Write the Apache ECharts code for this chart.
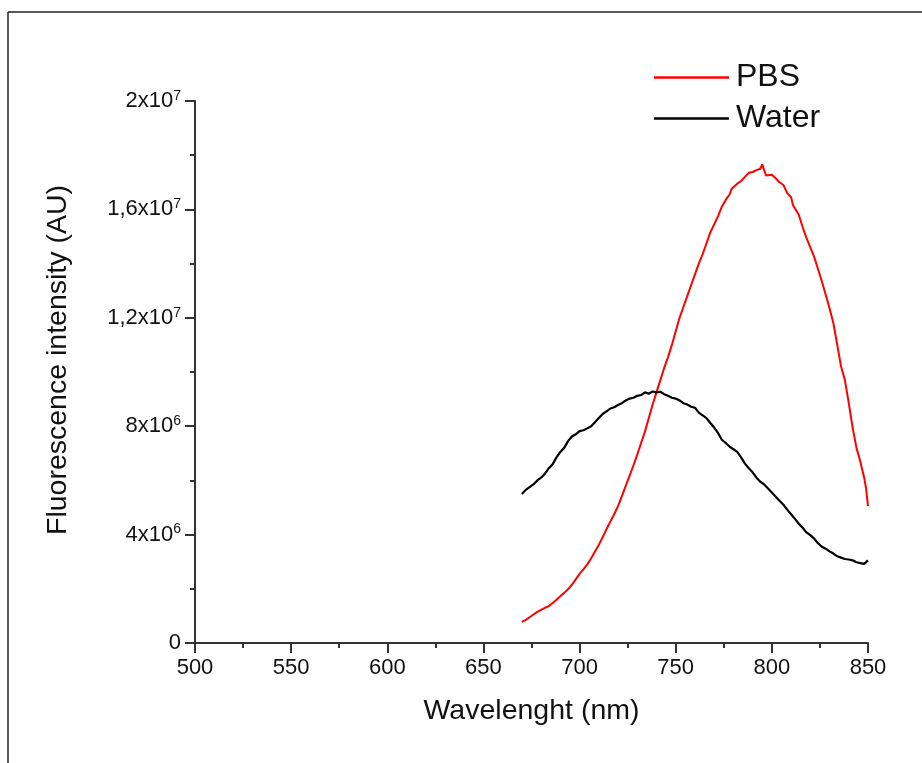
<!DOCTYPE html>
<html>
<head>
<meta charset="utf-8">
<script src="https://cdn.jsdelivr.net/npm/echarts@6/dist/echarts.min.js"></script>
<style>
html,body{margin:0;padding:0;background:#fff;}
#chart{width:922px;height:763px;}
</style>
</head>
<body>
<div id="chart"></div>
<script>
// Wavelength (nm) and intensity (units of 1e6 AU)
var pbsWavelength = [670,672,674,676,678,680,682,684,686,688,690,692,694,696,698,700,702,704,706,708,710,712,714,716,718,720,722,724,726,728,730,732,734,736,738,740,742,744,746,748,750,752,754,756,758,760,762,764,766,768,770,772,774,776,778,779,780,782,784,786,788,790,792,794,795,796,797,798,800,802,803,804,806,808,810,811,812,814,816,818,820,822,824,826,828,830,832,834,836,838,840,842,844,846,848,849,850];
var pbsIntensity = [0.78,0.85,0.95,1.05,1.15,1.22,1.30,1.36,1.48,1.60,1.73,1.85,1.98,2.15,2.35,2.55,2.72,2.90,3.12,3.38,3.62,3.90,4.20,4.48,4.75,5.05,5.42,5.80,6.17,6.55,6.95,7.38,7.80,8.30,8.80,9.25,9.70,10.15,10.55,11.00,11.50,12.00,12.40,12.80,13.20,13.60,14.00,14.35,14.75,15.15,15.45,15.75,16.10,16.35,16.55,16.75,16.70,16.95,17.05,17.20,17.35,17.38,17.45,17.50,17.66,17.45,17.25,17.30,17.28,17.15,17.20,17.00,16.90,16.60,16.45,16.15,16.20,15.80,15.35,14.95,14.60,14.25,13.80,13.35,12.85,12.35,11.80,11.00,10.20,9.70,8.85,7.95,7.20,6.70,6.10,5.70,5.05];

var waterWavelength = [670,672,674,676,678,680,682,684,686,688,690,692,694,696,698,700,702,704,706,708,710,712,714,716,718,720,722,724,726,728,730,732,734,736,738,740,742,744,746,748,750,752,754,756,758,760,762,764,766,768,770,772,774,776,778,780,782,784,786,788,790,792,794,796,798,800,802,804,806,808,810,812,814,816,818,820,822,824,826,828,830,832,834,836,838,840,842,844,846,848,850];
var waterIntensity = [5.50,5.65,5.75,5.85,6.00,6.10,6.25,6.45,6.60,6.85,7.05,7.20,7.45,7.62,7.70,7.82,7.85,7.92,8.00,8.15,8.30,8.45,8.55,8.65,8.70,8.78,8.85,8.95,9.02,9.05,9.12,9.15,9.25,9.20,9.28,9.25,9.27,9.18,9.12,9.05,9.02,8.95,8.85,8.80,8.72,8.68,8.50,8.40,8.30,8.12,7.95,7.75,7.50,7.38,7.25,7.15,7.05,6.85,6.62,6.45,6.30,6.10,5.95,5.85,5.70,5.55,5.40,5.25,5.10,4.92,4.75,4.58,4.40,4.25,4.08,3.98,3.85,3.68,3.55,3.48,3.38,3.30,3.20,3.15,3.10,3.08,3.05,2.98,2.95,2.92,3.05];

var seriesNames = ['PBS', 'Water'];
var seriesColors = ['#ff0000', '#000000'];
var xTicks = [500, 550, 600, 650, 700, 750, 800, 850];
var yTicks = [0, 4e6, 8e6, 1.2e7, 1.6e7, 2e7];

function pairs(xs, ys) {
  return xs.map(function (x, i) { return [x, ys[i] * 1e6]; });
}

function yLabel(v) {
  if (v === 0) return '0';
  var exp = Math.floor(Math.log10(v) + 1e-9);
  var mant = Math.round(v / Math.pow(10, exp) * 10) / 10;
  return String(mant).replace('.', ',') + 'x10{sup|' + exp + '}';
}

var FONT = '"Liberation Sans", Arial, sans-serif';
var chart = echarts.init(document.getElementById('chart'));
chart.setOption({
  animation: false,
  backgroundColor: '#fff',
  textStyle: { fontFamily: FONT },
  graphic: [
    { type: 'line', shape: { x1: 8, y1: 12, x2: 922, y2: 12 }, style: { stroke: '#222', lineWidth: 1.5 } },
    { type: 'line', shape: { x1: 8, y1: 12, x2: 8, y2: 763 }, style: { stroke: '#222', lineWidth: 1.5 } }
  ],
  grid: { left: 195, right: 54, top: 101, bottom: 120, containLabel: false },
  legend: {
    orient: 'vertical',
    left: 649,
    top: 54,
    icon: 'rect',
    itemWidth: 75,
    itemHeight: 2.5,
    itemGap: 4,
    textStyle: { fontFamily: FONT, fontSize: 32, color: '#111', lineHeight: 37, padding: [0, 0, 0, 2] },
    data: seriesNames
  },
  xAxis: {
    type: 'value',
    min: 500, max: 850, interval: 50,
    name: 'Wavelenght (nm)',
    nameLocation: 'middle',
    nameGap: 54,
    nameTextStyle: { fontFamily: FONT, fontSize: 28.5, color: '#111' },
    axisLine: { onZero: false, lineStyle: { color: '#333', width: 2 } },
    axisTick: { show: true, inside: false, length: 10, lineStyle: { color: '#333', width: 2 } },
    minorTick: { show: true, splitNumber: 2, length: 5, lineStyle: { color: '#333', width: 2 } },
    splitLine: { show: false },
    axisLabel: { fontFamily: FONT, fontSize: 22, color: '#111', margin: 14,
      formatter: function (v) { return xTicks.indexOf(v) >= 0 ? String(v) : ''; } }
  },
  yAxis: {
    type: 'value',
    min: 0, max: 2e7, interval: 4e6,
    name: 'Fluorescence intensity (AU)',
    nameLocation: 'middle',
    nameGap: 122,
    nameTextStyle: { fontFamily: FONT, fontSize: 28.5, color: '#111', padding: [0, 0, 0, 24] },
    axisLine: { show: true, onZero: false, lineStyle: { color: '#333', width: 2 } },
    axisTick: { show: true, inside: false, length: 10, lineStyle: { color: '#333', width: 2 } },
    minorTick: { show: true, splitNumber: 2, length: 5, lineStyle: { color: '#333', width: 2 } },
    splitLine: { show: false },
    axisLabel: {
      fontFamily: FONT, fontSize: 22, color: '#111', margin: 14,
      formatter: function (v) { return yTicks.indexOf(v) >= 0 ? yLabel(v) : ''; },
      rich: { sup: { fontFamily: FONT, fontSize: 14, color: '#111', verticalAlign: 'top', padding: [0, 0, 10, 0] } }
    }
  },
  series: [
    { name: seriesNames[0], type: 'line', data: pairs(pbsWavelength, pbsIntensity),
      showSymbol: false, symbol: 'none', color: seriesColors[0],
      lineStyle: { color: seriesColors[0], width: 2 } },
    { name: seriesNames[1], type: 'line', data: pairs(waterWavelength, waterIntensity),
      showSymbol: false, symbol: 'none', color: seriesColors[1],
      lineStyle: { color: seriesColors[1], width: 2.2 } }
  ]
});
</script>
</body>
</html>
